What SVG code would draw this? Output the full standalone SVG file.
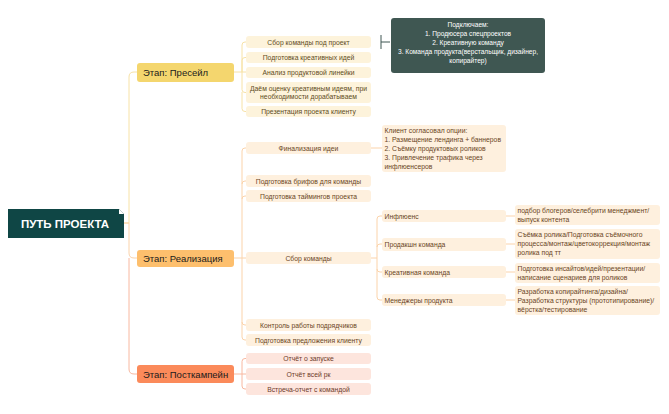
<svg xmlns="http://www.w3.org/2000/svg" width="669" height="414" viewBox="0 0 669 414">
<style>
text{font-family:"Liberation Sans",Arial,sans-serif}
.c{fill:none;stroke-width:1}
.y{stroke:#f7e2a6}.o{stroke:#fbd3aa}.p{stroke:#f8b8a0}
.s{font-size:9.5px;fill:#1a1a1a}
.t{font-size:6.8px;text-anchor:middle}
.l{font-size:6.8px}
.b1{fill:#fdf3db}.b2{fill:#fef0de}.b3{fill:#fde5dd}
.t1{fill:#5e4b22}.t2{fill:#6a4524}.t3{fill:#6d3b2b}
</style>
<rect width="669" height="414" fill="#ffffff"/>
<g id="connectors">
<path class="c y" d="M124,223 H129 V77 Q129,72 134,72 H137"/>
<path class="c o" d="M124,223 H129 V253 Q129,258 134,258 H137"/>
<path class="c p" d="M129,258 V369 Q129,374 134,374 H137"/>
<path class="c y" d="M234,72 H242 V45 Q242,42 245,42 H246 M242,72 V60.5 Q242,57.5 245,57.5 H246 M242,72 H246 M242,72 V89.5 Q242,92.5 245,92.5 H246 M242,92 V108.5 Q242,111.5 245,111.5 H246"/>
<path class="c o" d="M234,258 H242 V151 Q242,148 245,148 H246 M242,184 Q242,181 245,181 H246 M242,199 Q242,196 245,196 H246 M242,258 H246 M242,258 V322 Q242,325 245,325 H246 M242,322 V337 Q242,340 245,340 H246"/>
<path class="c o" d="M371,148 H382"/>
<path class="c o" d="M371,258 H377 V219 Q377,216 380,216 H382 M377,247 Q377,244 380,244 H382 M377,258 V269 Q377,272 380,272 H382 M377,269 V297 Q377,300 380,300 H382"/>
<path class="c o" d="M506,216 H515 M506,244 H515 M506,272 H515 M506,300 H515"/>
<path class="c p" d="M234,374 H242 V361.5 Q242,358.5 245,358.5 H246 M242,374 H246 M242,374 V386 Q242,389 245,389 H246"/>
<path fill="none" stroke="#3f5752" stroke-width="1" d="M381,35 V49 M381,42 H390"/>
</g>
<g id="root">
<path d="M8,209 H119 L124,214 V238 H8 Z" fill="#0f4645"/>
<path d="M119,209 L124,214 H119 Z" fill="#ffffff"/>
<text x="65" y="227.5" font-size="11.5" font-weight="bold" fill="#ffffff" text-anchor="middle">ПУТЬ ПРОЕКТА</text>
</g>
<g id="stage1">
<rect x="137" y="63" width="97" height="19" rx="3" fill="#f4d66e"/>
<text class="s" x="143" y="75.5">Этап: Пресейл</text>
</g>
<g id="stage2">
<rect x="137" y="250" width="97" height="17" rx="3" fill="#fdbf6d"/>
<text class="s" x="143" y="261.5">Этап: Реализация</text>
</g>
<g id="stage3">
<rect x="137" y="365" width="97" height="18" rx="3" fill="#fb8a5a"/>
<text class="s" x="143" y="377.5">Этап: Посткампейн</text>
</g>
<g id="s1c1"><rect class="b1" x="246" y="36" width="125" height="12" rx="3"/><text class="t t1" x="308.5" y="44.5">Сбор команды под проект</text></g>
<g id="s1c2"><rect class="b1" x="246" y="52" width="125" height="11" rx="3"/><text class="t t1" x="308.5" y="60">Подготовка креативных идей</text></g>
<g id="s1c3"><rect class="b1" x="246" y="67" width="125" height="11" rx="3"/><text class="t t1" x="308.5" y="75">Анализ продуктовой линейки</text></g>
<g id="s1c4"><rect class="b1" x="246" y="82" width="125" height="21" rx="3"/><text class="t t1" x="308.5" y="90.5">Даём оценку креативным идеям, при</text><text class="t t1" x="308.5" y="99">необходимости дорабатываем</text></g>
<g id="s1c5"><rect class="b1" x="246" y="106" width="125" height="11" rx="3"/><text class="t t1" x="308.5" y="114">Презентация проекта клиенту</text></g>
<g id="note1">
<rect x="391" y="18" width="154" height="55" rx="3" fill="#3f5752"/>
<g font-size="6.6" fill="#ffffff" text-anchor="middle">
<text x="468" y="27">Подключаем:</text>
<text x="468" y="36">1. Продюсера спецпроектов</text>
<text x="468" y="45">2. Креативную команду</text>
<text x="468" y="54">3. Команда продукта(верстальщик, дизайнер,</text>
<text x="468" y="63">копирайтер)</text>
</g>
</g>
<g id="s2c1"><rect class="b2" x="246" y="142" width="125" height="12" rx="3"/><text class="t t2" x="308.5" y="150.5">Финализация идеи</text></g>
<g id="s2c2"><rect class="b2" x="246" y="175" width="125" height="12" rx="3"/><text class="t t2" x="308.5" y="183.5">Подготовка брифов для команды</text></g>
<g id="s2c3"><rect class="b2" x="246" y="190" width="125" height="12" rx="3"/><text class="t t2" x="308.5" y="198.5">Подготовка таймингов проекта</text></g>
<g id="s2c4"><rect class="b2" x="246" y="252" width="125" height="12" rx="3"/><text class="t t2" x="308.5" y="260.5">Сбор команды</text></g>
<g id="s2c5"><rect class="b2" x="246" y="319" width="125" height="12" rx="3"/><text class="t t2" x="308.5" y="327.5">Контроль работы подрядчиков</text></g>
<g id="s2c6"><rect class="b2" x="246" y="334" width="125" height="12" rx="3"/><text class="t t2" x="308.5" y="342.5">Подготовка предложения клиенту</text></g>
<g id="note2">
<rect class="b2" x="382" y="125" width="124" height="47" rx="3"/>
<g class="t2">
<text class="l" x="384.5" y="133">Клиент согласовал опции:</text>
<text class="l" x="384.5" y="142">1. Размещение лендинга + баннеров</text>
<text class="l" x="384.5" y="151">2. Съёмку продуктовых роликов</text>
<text class="l" x="384.5" y="160">3. Привлечение трафика через</text>
<text class="l" x="384.5" y="169">инфлюенсеров</text>
</g>
</g>
<g id="team1"><rect class="b2" x="382" y="210" width="124" height="12" rx="3"/><text class="l t2" x="384.5" y="218.5">Инфлюенс</text></g>
<g id="team2"><rect class="b2" x="382" y="238" width="124" height="13" rx="3"/><text class="l t2" x="384.5" y="246.8">Продакшн команда</text></g>
<g id="team3"><rect class="b2" x="382" y="266" width="124" height="12" rx="3"/><text class="l t2" x="384.5" y="274.5">Креативная команда</text></g>
<g id="team4"><rect class="b2" x="382" y="294" width="124" height="12" rx="3"/><text class="l t2" x="384.5" y="302.5">Менеджеры продукта</text></g>
<g id="task1"><rect class="b2" x="515" y="205" width="145" height="20" rx="3"/><text class="l t2" x="517.5" y="212.5">подбор блогеров/селебрити менеджмент/</text><text class="l t2" x="517.5" y="221.5">выпуск контента</text></g>
<g id="task2"><rect class="b2" x="515" y="229" width="145" height="30" rx="3"/><text class="l t2" x="517.5" y="236.5">Съёмка ролика/Подготовка съёмочного</text><text class="l t2" x="517.5" y="245.5">процесса/монтаж/цветокоррекция/монтаж</text><text class="l t2" x="517.5" y="254.5">ролика под тт</text></g>
<g id="task3"><rect class="b2" x="515" y="263" width="145" height="20" rx="3"/><text class="l t2" x="517.5" y="270.5">Подготовка инсайтов/идей/презентации/</text><text class="l t2" x="517.5" y="279.5">написание сценариев для роликов</text></g>
<g id="task4"><rect class="b2" x="515" y="286" width="145" height="29" rx="3"/><text class="l t2" x="517.5" y="293.5">Разработка копирайтинга/дизайна/</text><text class="l t2" x="517.5" y="302.5">Разработка структуры (прототипирование)/</text><text class="l t2" x="517.5" y="311.5">вёрстка/тестирование</text></g>
<g id="s3c1"><rect class="b3" x="246" y="353" width="125" height="11" rx="3"/><text class="t t3" x="308.5" y="361">Отчёт о запуске</text></g>
<g id="s3c2"><rect class="b3" x="246" y="368" width="125" height="12" rx="3"/><text class="t t3" x="308.5" y="376.5">Отчёт всей рк</text></g>
<g id="s3c3"><rect class="b3" x="246" y="383" width="125" height="12" rx="3"/><text class="t t3" x="308.5" y="391.5">Встреча-отчет с командой</text></g>
</svg>
